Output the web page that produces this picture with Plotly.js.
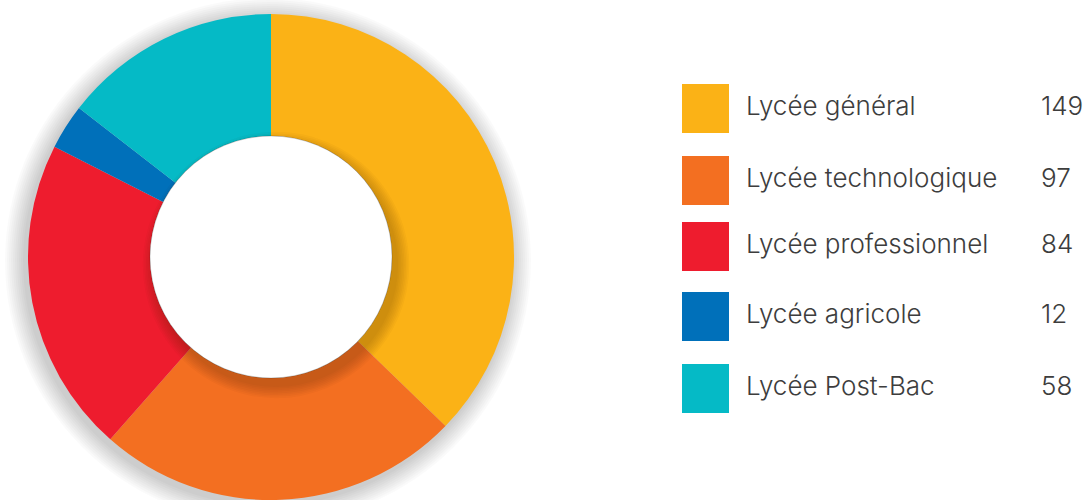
<!DOCTYPE html>
<html>
<head>
<meta charset="utf-8">
<script src="https://cdn.plot.ly/plotly-3.0.1.min.js"></script>
<style>
html,body{margin:0;padding:0;background:#fff;}
#chart{width:1085px;height:500px;}
</style>
</head>
<body>
<div id="chart"></div>
<script>
const categories = ["Lycée général", "Lycée technologique", "Lycée professionnel", "Lycée agricole", "Lycée Post-Bac"];
const values = [149, 97, 84, 12, 58];
const colors = ["#FBB216", "#F36F21", "#EE1C2E", "#0070BA", "#05BAC6"];

const W = 1085, H = 500;
const px = x => x / W;
const py = y => 1 - y / H;
const cx = 271, cy = 257, R = 243, rHole = 121;

const shapes = [];
// outer soft drop shadow (below pie)
for (let i = 0; i < 10; i++) {
  const r = R + 2 + i * 2;
  shapes.push({type: "circle", xref: "paper", yref: "paper", layer: "below",
    x0: px(cx - 3 - r), x1: px(cx - 3 + r), y0: py(cy + 4 + r), y1: py(cy + 4 - r),
    fillcolor: "rgba(0,0,0,0.018)", line: {width: 0}});
}
// hole shadow (above pie)
for (let i = 0; i < 8; i++) {
  const r = rHole + 1 + i * 1.6;
  shapes.push({type: "circle", xref: "paper", yref: "paper", layer: "above",
    x0: px(cx + 5 - r), x1: px(cx + 5 + r), y0: py(cy + 8 + r), y1: py(cy + 8 - r),
    fillcolor: "rgba(60,30,0,0.03)", line: {width: 0}});
}
shapes.push({type: "circle", xref: "paper", yref: "paper", layer: "above",
  x0: px(cx - rHole), x1: px(cx + rHole), y0: py(cy + rHole), y1: py(cy - rHole),
  fillcolor: "#ffffff", line: {color: "rgba(0,0,0,0.18)", width: 1}});

// legend
const rowY = [108.5, 180.5, 246.5, 316.5, 388.5];
const annotations = [];
const font = {family: "Inter", size: 26, weight: 300, color: "#3d3d3d"};
categories.forEach((c, i) => {
  shapes.push({type: "rect", xref: "paper", yref: "paper", layer: "above",
    x0: px(682), x1: px(729), y0: py(rowY[i] + 24.5), y1: py(rowY[i] - 24.5),
    fillcolor: colors[i], line: {width: 0}});
  annotations.push({xref: "paper", yref: "paper", x: px(744), y: py(rowY[i] - 3),
    xanchor: "left", yanchor: "middle", showarrow: false, text: c, font: font});
  annotations.push({xref: "paper", yref: "paper", x: px(1039), y: py(rowY[i] - 3),
    xanchor: "left", yanchor: "middle", showarrow: false, text: String(values[i]), font: font});
});

const trace = {
  type: "pie", labels: categories, values: values, sort: false,
  direction: "clockwise", rotation: 0, hole: rHole / R,
  marker: {colors: colors, line: {width: 0}},
  textinfo: "none", showlegend: false,
  domain: {x: [px(cx - R), px(cx + R)], y: [py(cy + R), py(cy - R)]}
};

Plotly.newPlot("chart", [trace], {
  width: W, height: H, margin: {l: 0, r: 0, t: 0, b: 0},
  paper_bgcolor: "#fff", plot_bgcolor: "#fff",
  shapes: shapes, annotations: annotations, showlegend: false
}, {displayModeBar: false, staticPlot: true});
</script>
</body>
</html>
